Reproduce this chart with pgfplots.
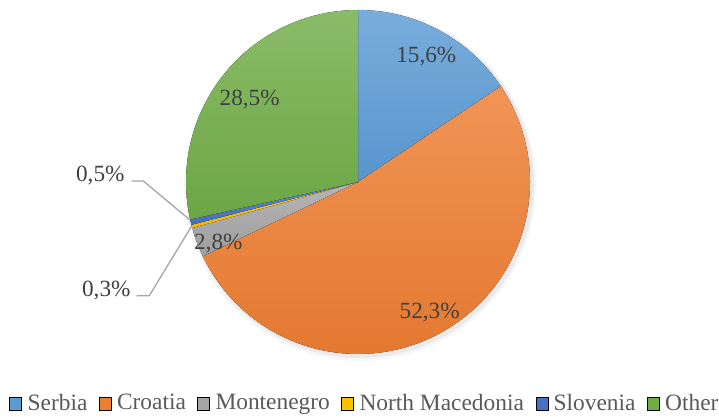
\documentclass[border=0pt]{standalone}
\usepackage{pgfplots}
\pgfplotsset{compat=1.18}
\usepackage{fontspec}
\setmainfont{Liberation Serif}
\definecolor{cSer}{HTML}{5B9BD5}
\definecolor{cCro}{HTML}{ED7D31}
\definecolor{cMon}{HTML}{A5A5A5}
\definecolor{cMac}{HTML}{FFC000}
\definecolor{cSlo}{HTML}{4472C4}
\definecolor{cOth}{HTML}{70AD47}
\definecolor{labc}{HTML}{404040}
\definecolor{legc}{HTML}{595959}
\definecolor{linec}{HTML}{A6A6A6}
% start (cumulative percent), share (percent), colour
\newcommand\pieslice[3]{%
  \pgfmathsetmacro\sa{90-3.6*#1}%
  \pgfmathsetmacro\ea{90-3.6*(#1+#2)}%
  \edef\tmp{\noexpand\fill[top color=#3!82!white,bottom color=#3!96!black] (axis cs:358,235) -- ++(\sa:172bp) arc[start angle=\sa,end angle=\ea,radius=172bp] -- cycle;}%
  \tmp}
\begin{document}
\begin{tikzpicture}
\begin{axis}[width=719bp,height=417bp,scale only axis,
  xmin=0,xmax=719,ymin=0,ymax=417,hide axis,clip=false,
  legend style={at={(axis cs:9.3,14.3)},anchor=west,draw=none,fill=none,
    legend columns=-1,font=\fontsize{23.5}{26}\selectfont,text=legc,
    inner sep=0pt,nodes={inner sep=0pt},
    /tikz/every odd column/.append style={column sep=5.7bp},
    /tikz/every even column/.append style={column sep=11.5bp}},
  legend image code/.code={\fill[#1] (0bp,-7bp) rectangle (12bp,6bp);},
]
\path (axis cs:0,0) rectangle (axis cs:719,417);
\addlegendimage{fill=cSer}\addlegendentry{Serbia}
\addlegendimage{fill=cCro}\addlegendentry{Croatia}
\addlegendimage{fill=cMon}\addlegendentry{Montenegro}
\addlegendimage{fill=cMac}\addlegendentry{North Macedonia}
\addlegendimage{fill=cSlo}\addlegendentry{Slovenia}
\addlegendimage{fill=cOth}\addlegendentry{Other}
% soft shadow
\fill[black,opacity=0.03] (axis cs:360,232) circle[radius=176bp];
\fill[black,opacity=0.05] (axis cs:360,233) circle[radius=174bp];
% slices: Serbia 15.6, Croatia 52.3, Montenegro 2.8, N. Macedonia 0.3, Slovenia 0.5, Other 28.5
\pieslice{0}{15.6}{cSer}
\pieslice{15.6}{52.3}{cCro}
\pieslice{67.9}{2.8}{cMon}
\pieslice{70.7}{0.3}{cMac}
\pieslice{71.0}{0.5}{cSlo}
\pieslice{71.5}{28.5}{cOth}
% leader lines
\draw[linec,line width=1.3bp] (axis cs:131.7,236) -- (axis cs:143.3,236) -- (axis cs:190,197);
\draw[linec,line width=1.3bp] (axis cs:136.7,121.3) -- (axis cs:149.3,121.3) -- (axis cs:191.7,191);
% labels
\begin{scope}[every node/.style={font=\fontsize{23.3}{26}\selectfont,text=labc,inner sep=0pt,anchor=base}]
\node at (axis cs:426.3,354.3) {15,6\%};
\node at (axis cs:429.7,98.7) {52,3\%};
\node at (axis cs:218.3,167.7) {2,8\%};
\node at (axis cs:249.7,311.3) {28,5\%};
\node at (axis cs:100.3,235.3) {0,5\%};
\node at (axis cs:106.3,120.3) {0,3\%};
\end{scope}
\end{axis}
\end{tikzpicture}
\end{document}
